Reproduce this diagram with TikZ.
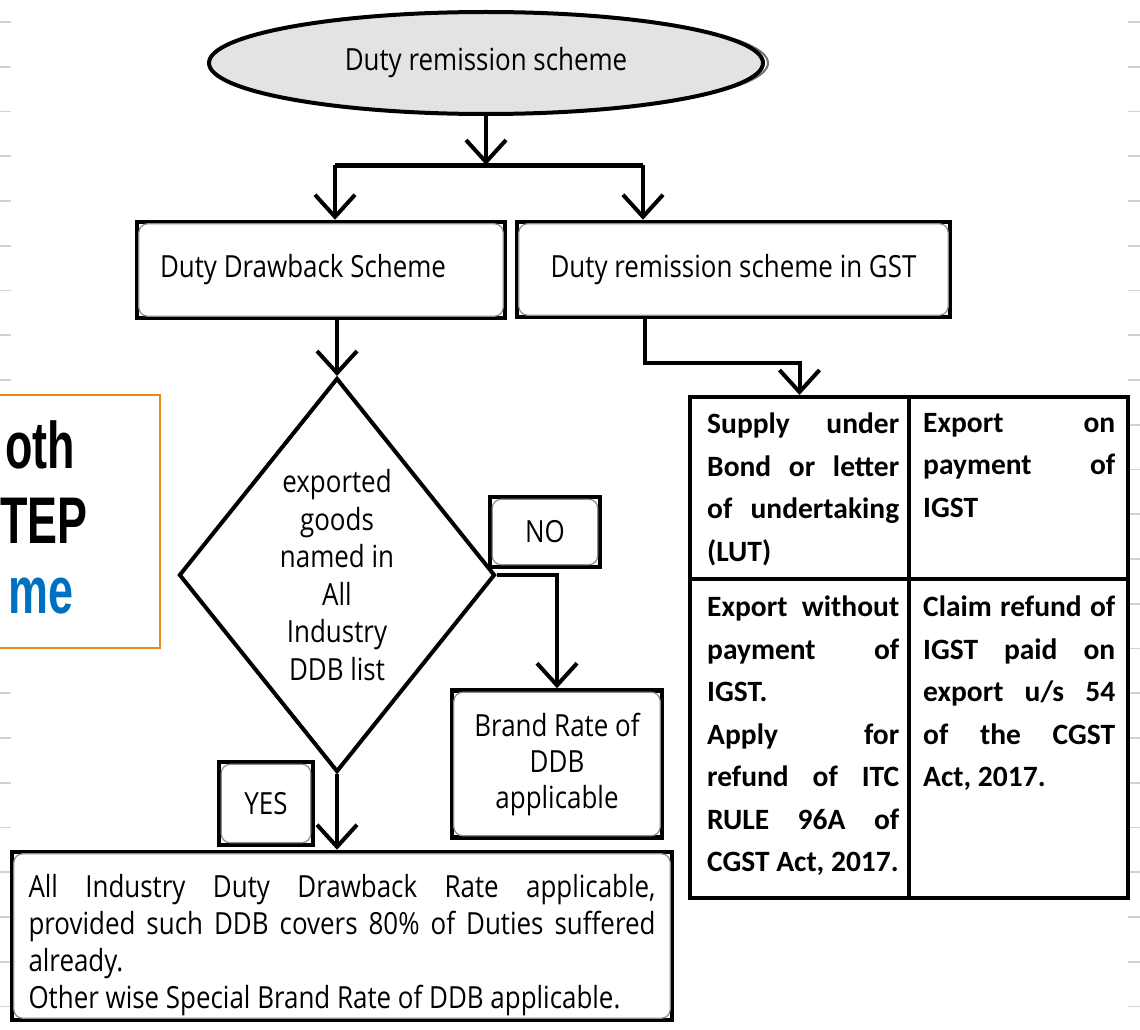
\documentclass[tikz,border=0pt]{standalone}
\usepackage{fontspec}
\usetikzlibrary{shapes.geometric,arrows.meta}
\newfontfamily\handfont[FakeStretch=0.85]{Open Sans}
\newfontfamily\tablefont{Carlito}
\newfontfamily\slidefont[FakeStretch=0.68]{Liberation Sans}
\setlength{\parindent}{0pt}
\definecolor{orng}{HTML}{E8891C}
\definecolor{slideblue}{HTML}{0070C0}
\definecolor{tickgray}{HTML}{D2D2D2}
\begin{document}
\begin{tikzpicture}[x=1pt,y=-1pt,
  handtext/.style={font=\handfont\fontsize{30.5}{37}\selectfont},
  tabtext/.style={font=\tablefont\bfseries\fontsize{29.5}{42.5}\selectfont,
    text width=192pt, align=justify, inner sep=0pt, anchor=north west},
  slidetext/.style={font=\slidefont\bfseries\fontsize{66}{72}\selectfont, inner sep=0pt, anchor=base east},
  box/.style={draw, line width=4.5pt, inner sep=0pt},
  cell/.style={draw, line width=4pt, inner sep=0pt, minimum width=219pt},
  link/.style={line width=4pt},
  arr/.style={line width=4pt, -{Straight Barb[length=22pt,width=40pt]}},
  bevel/.style={black!45, line width=1.2pt, rounded corners=9pt},
  tick/.style={tickgray, line width=1.6pt}]

\useasboundingbox (0,0) rectangle (1140,1030);
\clip (0,0) rectangle (1140,1030);
\fill[white] (0,0) rectangle (1140,1030);

% ruled margin marks
\foreach \k in {0,...,22}{
  \draw[tick] (0,{22+44.75*\k}) -- (11,{22+44.75*\k});
  \draw[tick] (1128,{22+44.75*\k}) -- (1140,{22+44.75*\k});
}

% side panel
\node[draw=orng, fill=white, line width=2pt, inner sep=0pt,
      minimum width=170pt, minimum height=253pt] (panel) at (75,521.5) {};
\node[slidetext] (p1) at (75,468) {oth};
\node[slidetext] (p2) at (88,543) {TEP};
\node[slidetext, text=slideblue] (p3) at (74,613) {me};

% start terminal
\draw[line width=2pt, black!55] (489,63) ellipse [x radius=279, y radius=50];
\node[ellipse, draw, line width=4pt, fill=black!11, inner sep=0pt,
      minimum width=554pt, minimum height=102pt, handtext] (dr) at (486,63) {Duty remission scheme};

% first level
\node[box, minimum width=368pt, minimum height=96pt, handtext] (ddb) at (321,270)
  {\hbox to 322pt{Duty Drawback Scheme\hfil}};
\node[box, minimum width=433pt, minimum height=95pt, handtext] (gst) at (733.5,269.5) {Duty remission scheme in GST};

\coordinate (fk) at (486,165);
\coordinate (fkl) at (335,165);
\coordinate (fkr) at (643,165);
\draw[arr] (dr.south) -- (fk);
\draw[link, line width=5pt] (fkl) -- (fkr);
\draw[arr] (fkl) -- (fkl |- ddb.north);
\draw[arr] (fkr) -- (fkr |- gst.north);

% decision
\node[diamond, draw, line width=4pt, inner sep=0pt,
      minimum width=316pt, minimum height=394pt] (dia) at (337,575) {};
\node[handtext, align=center, font=\handfont\fontsize{30.5}{37.6}\selectfont] (diatext) at (dia.center)
  {exported\\goods\\named in\\All\\Industry\\DDB list};
\draw[arr] (dia.north |- ddb.south) -- (dia.north);

\node[box, line width=3.5pt, minimum width=110pt, minimum height=70pt, handtext] (no) at (545,532) {NO};
\node[box, line width=3.5pt, minimum width=94pt, minimum height=83pt, handtext] (yes) at (266,803.5) {YES};

\node[box, minimum width=210pt, minimum height=147pt, handtext, align=center,
      font=\handfont\fontsize{30.5}{36}\selectfont] (brand) at (557,764) {Brand Rate of\\DDB\\applicable};
\draw[arr] (dia.east) -| (brand.north);

\node[box, minimum width=660pt, minimum height=168pt] (all) at (342,936) {};
\node[handtext, text width=627pt, align=justify, inner sep=0pt] (alltext) at (342,945)
  {All Industry Duty Drawback Rate applicable,\linebreak
   provided such DDB covers 80\% of Duties suffered\linebreak
   already.\\
   Other wise Special Brand Rate of DDB applicable.};
\draw[arr] (dia.south) -- (dia.south |- all.north);

% inner bevel lines of the hand-drawn boxes
\foreach \b in {ddb,gst,no,yes,brand,all}{
  \draw[bevel] ([shift={(4,4)}]\b.north west) rectangle ([shift={(-4,-4)}]\b.south east);
}

% GST table
\node[cell, minimum height=182pt] (c11) at (799.5,488) {};
\node[cell, minimum height=182pt] (c12) at (1018.5,488) {};
\node[cell, minimum height=319pt] (c21) at (799.5,738.5) {};
\node[cell, minimum height=319pt] (c22) at (1018.5,738.5) {};

\node[tabtext] (t11) at (707,413) {Supply under\linebreak Bond or letter\linebreak of undertaking\linebreak (LUT)};
\node[tabtext] (t12) at (923,413) {Export on\linebreak payment of\linebreak IGST};
\node[tabtext] (t21) at (707,596) {Export without\linebreak payment of\linebreak IGST.\\ Apply for\linebreak refund of ITC\linebreak RULE 96A of\linebreak CGST Act, 2017.};
\node[tabtext] (t22) at (923,596) {Claim refund of\linebreak IGST paid on\linebreak export u/s 54\linebreak of the CGST\linebreak Act, 2017.};

\coordinate (gb) at (645,363);
\draw[arr] (gst.south -| gb) -- (gb) -| (c11.north);

\end{tikzpicture}
\end{document}
